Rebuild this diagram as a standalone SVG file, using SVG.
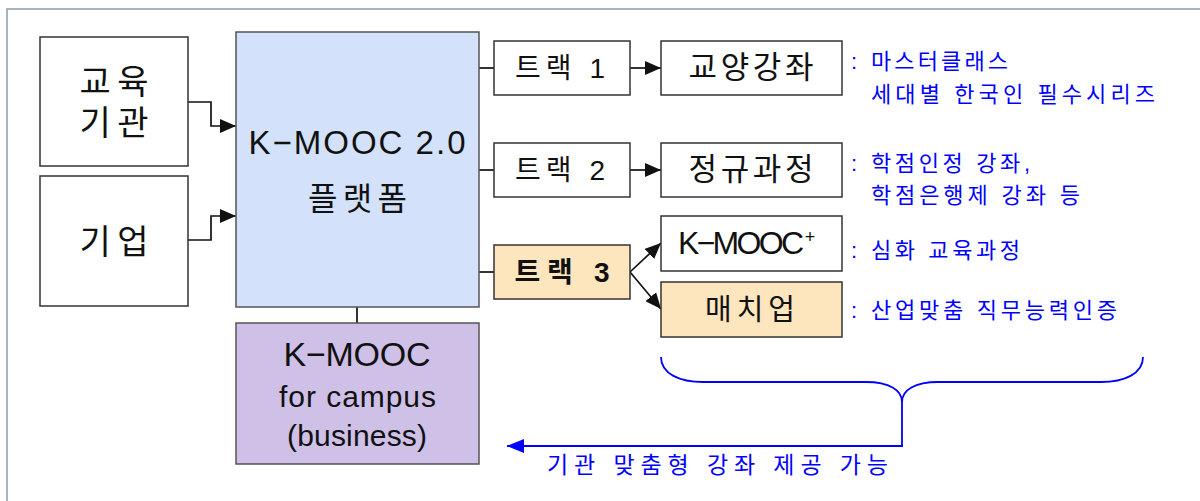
<svg xmlns="http://www.w3.org/2000/svg" width="1200" height="501" viewBox="0 0 1200 501">
<style>
.box{stroke:#333;stroke-width:1.5}
.w{fill:#fff}
.peach{fill:#fde5bd}
.t{font-family:"Liberation Sans","Noto Sans CJK KR",sans-serif;fill:#111;text-anchor:middle}
.b{font-family:"Liberation Sans","Noto Sans CJK KR",sans-serif;fill:#0000ff}
.c{stroke:#111;stroke-width:1.7;fill:none}
.bl{stroke:#0000ff;stroke-width:1.8;fill:none}
</style>
<defs>
<marker id="ah" markerUnits="userSpaceOnUse" markerWidth="16" markerHeight="14" refX="16" refY="7" orient="auto"><path d="M0,0 L16,7 L0,14 z" fill="#111"/></marker>
<marker id="ahb" markerUnits="userSpaceOnUse" markerWidth="17" markerHeight="14" refX="17" refY="7" orient="auto"><path d="M0,0 L17,7 L0,14 z" fill="#0000ff"/></marker>
</defs>
<rect width="1200" height="501" fill="#fff"/>
<rect x="7" y="9" width="1210" height="510" fill="none" stroke="#8c9cab" stroke-width="1.5"/>

<g id="connectors">
<path class="c" d="M188,102 H211 V126 H236" marker-end="url(#ah)"/>
<path class="c" d="M188,240 H211 V216 H236" marker-end="url(#ah)"/>
<path class="c" d="M357,307 V323"/>
<path class="c" d="M479,68 H494"/>
<path class="c" d="M479,170 H494"/>
<path class="c" d="M479,272 H494"/>
<path class="c" d="M630,68 H661" marker-end="url(#ah)"/>
<path class="c" d="M630,170 H661" marker-end="url(#ah)"/>
<path class="c" d="M630,272 L661,243" marker-end="url(#ah)"/>
<path class="c" d="M630,272 L661,309" marker-end="url(#ah)"/>
<path class="bl" d="M661,357 C661,374 680,382 703,382 L866,382 C889,382 902,390 902,402 C902,390 915,382 938,382 L1101,382 C1124,382 1143,374 1143,357"/>
<path class="bl" d="M902,402 V446 H507" marker-end="url(#ahb)"/>
</g>

<g id="edu">
<rect class="box w" x="40" y="37" width="148" height="129"/>
<text class="t" x="114" y="94" font-size="34" textLength="69" lengthAdjust="spacing">교육</text>
<text class="t" x="114" y="135" font-size="34" textLength="69" lengthAdjust="spacing">기관</text>
</g>
<g id="company">
<rect class="box w" x="40" y="176" width="148" height="130"/>
<text class="t" x="114" y="254" font-size="34" textLength="69" lengthAdjust="spacing">기업</text>
</g>
<g id="platform">
<rect x="236" y="32" width="243" height="275" fill="#d3e1fb" stroke="#555" stroke-width="1.5"/>
<text class="t" x="357" y="153.5" font-size="33" textLength="217" lengthAdjust="spacing">K−MOOC 2.0</text>
<text class="t" x="357.5" y="209.5" font-size="32" textLength="99" lengthAdjust="spacing">플랫폼</text>
</g>
<g id="campus">
<rect x="236" y="323" width="243" height="141" fill="#cfc0e8" stroke="#555" stroke-width="1.5"/>
<text class="t" x="357" y="366" font-size="34" textLength="147" lengthAdjust="spacing">K−MOOC</text>
<text class="t" x="357.5" y="407" font-size="30" textLength="157" lengthAdjust="spacing">for campus</text>
<text class="t" x="357" y="446" font-size="30" textLength="140" lengthAdjust="spacing">(business)</text>
</g>
<g id="track1">
<rect class="box w" x="494" y="41" width="136" height="54"/>
<text class="t" x="560" y="78" font-size="28" textLength="90" lengthAdjust="spacing">트랙 1</text>
</g>
<g id="track2">
<rect class="box w" x="494" y="143" width="136" height="54"/>
<text class="t" x="560" y="180" font-size="28" textLength="90" lengthAdjust="spacing">트랙 2</text>
</g>
<g id="track3">
<rect class="box peach" x="494" y="245" width="136" height="54"/>
<text class="t" x="562" y="282" font-size="28" font-weight="bold" textLength="95" lengthAdjust="spacing">트랙 3</text>
</g>
<g id="liberal">
<rect class="box w" x="661" y="41" width="181" height="54"/>
<text class="t" x="751" y="78" font-size="31" textLength="125" lengthAdjust="spacing">교양강좌</text>
</g>
<g id="regular">
<rect class="box w" x="661" y="143" width="181" height="54"/>
<text class="t" x="751" y="180" font-size="31" textLength="125" lengthAdjust="spacing">정규과정</text>
</g>
<g id="kmoocplus">
<rect class="box w" x="661" y="216" width="181" height="55"/>
<text class="t" x="741" y="254" font-size="32" textLength="126" lengthAdjust="spacing">K−MOOC</text>
<text class="t" x="810" y="243" font-size="18">+</text>
</g>
<g id="matchup">
<rect class="box peach" x="661" y="282" width="181" height="55"/>
<text class="t" x="750" y="320" font-size="29" textLength="90" lengthAdjust="spacing">매치업</text>
</g>

<g id="notes">
<text class="b" font-size="22"><tspan x="851" y="68.5">:</tspan><tspan x="871" y="68.5" textLength="137" lengthAdjust="spacing">마스터클래스</tspan></text>
<text class="b" x="871" y="101.5" font-size="22" textLength="284" lengthAdjust="spacing">세대별 한국인 필수시리즈</text>
<text class="b" font-size="22"><tspan x="851" y="171">:</tspan><tspan x="871" y="171" textLength="159" lengthAdjust="spacing">학점인정 강좌,</tspan></text>
<text class="b" x="871" y="203" font-size="22" textLength="209" lengthAdjust="spacing">학점은행제 강좌 등</text>
<text class="b" font-size="22"><tspan x="851" y="258">:</tspan><tspan x="871" y="258" textLength="149" lengthAdjust="spacing">심화 교육과정</tspan></text>
<text class="b" font-size="22"><tspan x="851" y="318">:</tspan><tspan x="871" y="318" textLength="246" lengthAdjust="spacing">산업맞춤 직무능력인증</tspan></text>
<text class="b" x="547" y="473" font-size="23" textLength="341" lengthAdjust="spacing">기관 맞춤형 강좌 제공 가능</text>
</g>
</svg>
